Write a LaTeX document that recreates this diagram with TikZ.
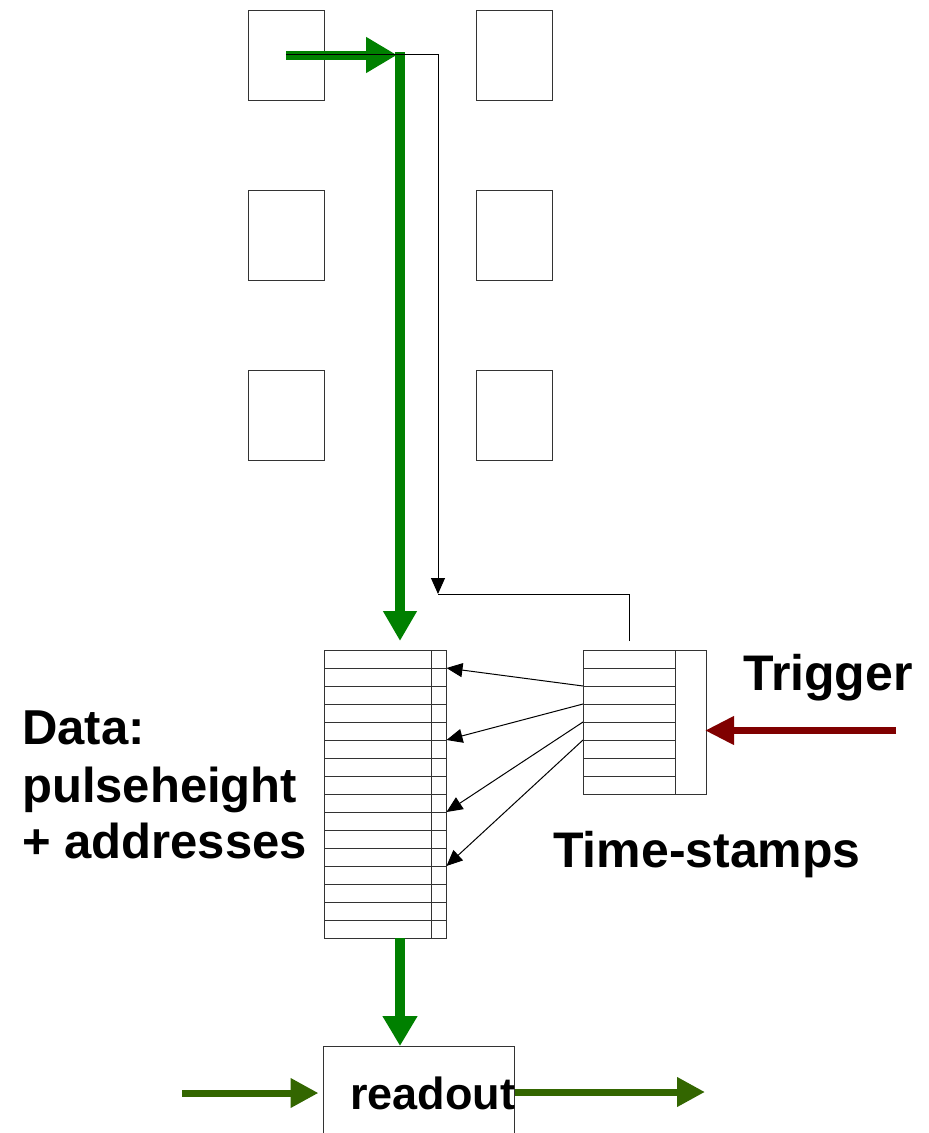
\documentclass[tikz,border=0pt]{standalone}
\usepackage{fontspec}
\setmainfont{Liberation Sans}
\usetikzlibrary{arrows.meta,calc}
\definecolor{flowgreen}{RGB}{0,128,0}
\definecolor{olivegreen}{RGB}{51,102,0}
\definecolor{trigred}{RGB}{128,0,0}
\begin{document}
\begin{tikzpicture}[x=1pt,y=-1pt,
  frame/.style={draw=black!80,line width=1pt},
  pixbox/.style={frame,minimum width=76pt,minimum height=90pt,inner sep=0pt,outer sep=0pt},
  wire/.style={draw=black,line width=1pt},
  wirearrow/.style={wire,-{Triangle[length=16pt,width=14pt]}},
  bigflow/.style={draw=flowgreen,line width=10pt,-{Triangle[length=30pt,width=33pt]}},
  ioflow/.style={draw=olivegreen,line width=7pt,-{Triangle[length=28pt,width=28pt]}},
  trigflow/.style={draw=trigred,line width=7pt,-{Triangle[length=29pt,width=27pt]}},
  label/.style={font=\fontsize{50pt}{57pt}\selectfont\bfseries,inner sep=0pt,anchor=base west},
  datalabel/.style={label,font=\fontsize{49pt}{57pt}\selectfont\bfseries},
]
\useasboundingbox (0,0) rectangle (929,1133);

% pixel pads
\node[pixbox] (p11) at (286,55) {};
\node[pixbox] (p12) at (514,55) {};
\node[pixbox] (p21) at (286,235) {};
\node[pixbox] (p22) at (514,235) {};
\node[pixbox] (p31) at (286,415) {};
\node[pixbox] (p32) at (514,415) {};

% data buffer: 16 rows, with a narrow column on the right
\node[frame,minimum width=122pt,minimum height=288pt,inner sep=0pt,outer sep=0pt] (buf) at (385.5,794) {};
\foreach \i in {1,...,15}
  \draw[frame] ($(buf.north west)+(0,18*\i)$) -- ($(buf.north east)+(0,18*\i)$);
\draw[frame] ($(buf.north west)+(107,0)$) -- ($(buf.south west)+(107,0)$);

% time-stamp buffer: 8 rows
\node[frame,minimum width=123pt,minimum height=144pt,inner sep=0pt,outer sep=0pt] (ts) at (644.5,722) {};
\foreach \i in {1,...,7}
  \draw[frame] ($(ts.north west)+(0,18*\i)$) -- ($(ts.north west)+(92,18*\i)$);
\draw[frame] ($(ts.north west)+(92,0)$) -- ($(ts.south west)+(92,0)$);

% readout block
\node[frame,minimum width=191pt,minimum height=100pt,inner sep=0pt,outer sep=0pt] (readout) at (419,1096) {};
\node[label] (readouttxt) at (350,1109) {\fontsize{45pt}{50pt}\selectfont readout};

% texts
\node[datalabel] (data1) at (22,744) {Data:};
\node[datalabel] (data2) at (22,802) {pulseheight};
\node[datalabel] (data3) at (22,858) {+ addresses};
\node[label] (trigtxt) at (743,690) {Trigger};
\node[label] (tstxt) at (553,867) {Time-stamps};

% green data flow from the pad into the buffer
\coordinate (corner) at (400,52);
\draw[bigflow,line width=9pt,-{Triangle[length=31pt,width=34pt]}] (p11.center) -- (397,55);
\draw[bigflow,-{Triangle[length=30pt,width=32pt]},shorten >=9pt] (corner) -- (corner |- buf.north);

% thin hit line down to the time-stamp return path
\coordinate (hitcorner) at (438,54);
\coordinate (hitend) at (438,594);
\coordinate (tsup) at (629,641);
\draw[wirearrow] (p11.center |- hitcorner) -- (hitcorner) -- (hitend);
\draw[wire] (tsup) -- (tsup |- hitend) -- (hitend);

% time-stamp pointers into the data buffer
\draw[wirearrow] ($(ts.north west)+(0,36)$) -- ($(buf.north east)+(0,18)$);
\draw[wirearrow] ($(ts.north west)+(0,54)$) -- ($(buf.north east)+(0,90)$);
\draw[wirearrow] ($(ts.north west)+(0,72)$) -- ($(buf.north east)+(0,162)$);
\draw[wirearrow] ($(ts.north west)+(0,90)$) -- ($(buf.north east)+(0,216)$);

% trigger input
\coordinate (trigin) at (896,730.5);
\draw[trigflow,shorten >=-1pt] (trigin) -- (ts.east |- trigin);

% buffer to readout
\draw[bigflow,-{Triangle[length=30pt,width=33pt]}] (buf.south -| corner) -- (readout.north -| corner);

% readout chain
\coordinate (chainin) at (182,1093);
\coordinate (chainout) at (705,1092);
\draw[ioflow,shorten >=5pt] (chainin) -- (readout.west |- chainin);
\draw[ioflow] (readout.east |- chainout) -- (chainout);
\end{tikzpicture}
\end{document}
